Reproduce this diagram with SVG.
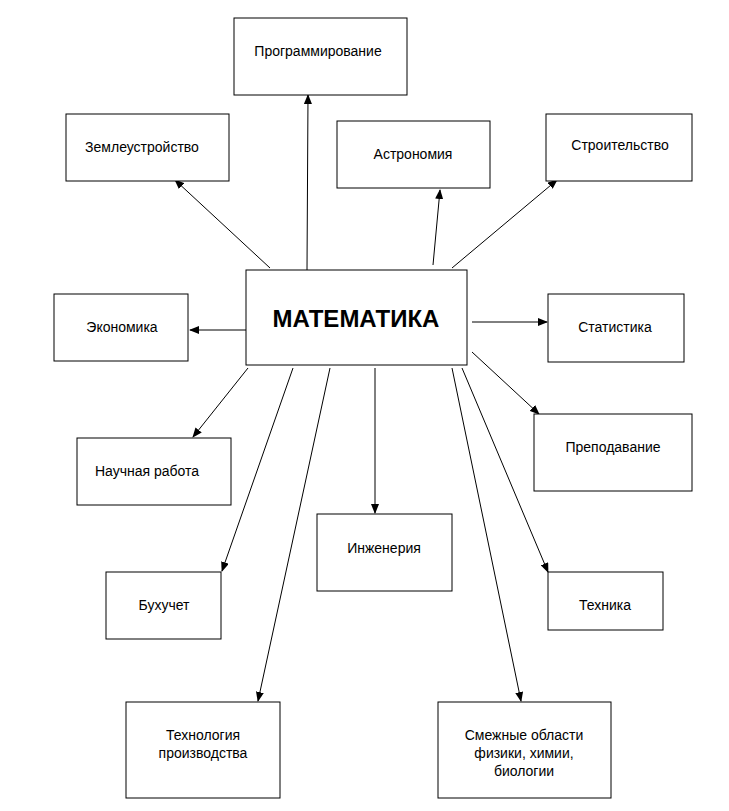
<svg xmlns="http://www.w3.org/2000/svg" width="729" height="811" viewBox="0 0 729 811">
<style>
rect{fill:#fff;stroke:#000;stroke-width:1}
text{font-family:"Liberation Sans",Arial,sans-serif;font-size:14px;fill:#000;text-anchor:middle}
.c line{stroke:#000;stroke-width:1;marker-end:url(#a)}
</style>
<defs><marker id="a" markerWidth="10" markerHeight="8" refX="9" refY="4" orient="auto" markerUnits="userSpaceOnUse"><path d="M0,0L10,4L0,8Z" fill="#000"/></marker></defs>
<rect width="729" height="811" style="stroke:none"/>
<g class="c">
<line x1="307" y1="270" x2="308" y2="95"/>
<line x1="270" y1="268" x2="175" y2="180"/>
<line x1="433" y1="265" x2="440" y2="190"/>
<line x1="452" y1="268" x2="557" y2="180"/>
<line x1="246" y1="330" x2="190" y2="330"/>
<line x1="472" y1="322" x2="547" y2="322"/>
<line x1="248" y1="368" x2="193" y2="437"/>
<line x1="472" y1="352" x2="539" y2="414"/>
<line x1="375" y1="368" x2="375" y2="513"/>
<line x1="293" y1="368" x2="222" y2="571"/>
<line x1="462" y1="368" x2="548" y2="572"/>
<line x1="330" y1="368" x2="258" y2="701"/>
<line x1="452" y1="368" x2="521" y2="701"/>
</g>
<g id="math"><rect x="246" y="270" width="221" height="95"/><text x="356" y="327" style="font-size:24px;font-weight:bold">МАТЕМАТИКА</text></g>
<g id="prog"><rect x="234" y="18" width="173" height="77"/><text x="318" y="56">Программирование</text></g>
<g id="zem"><rect x="66" y="114" width="163" height="67"/><text x="142" y="152">Землеустройство</text></g>
<g id="astro"><rect x="337" y="121" width="153" height="67"/><text x="413" y="159">Астрономия</text></g>
<g id="stroi"><rect x="546" y="114" width="146" height="67"/><text x="620" y="150">Строительство</text></g>
<g id="econ"><rect x="54" y="294" width="134" height="67"/><text x="122" y="332">Экономика</text></g>
<g id="stat"><rect x="548" y="294" width="136" height="68"/><text x="615" y="332">Статистика</text></g>
<g id="prep"><rect x="534" y="414" width="158" height="77"/><text x="613" y="452">Преподавание</text></g>
<g id="nauch"><rect x="77" y="438" width="154" height="67"/><text x="147" y="476">Научная работа</text></g>
<g id="inzh"><rect x="317" y="514" width="135" height="77"/><text x="384" y="553">Инженерия</text></g>
<g id="buh"><rect x="106" y="572" width="115" height="67"/><text x="164" y="610">Бухучет</text></g>
<g id="tech"><rect x="548" y="572" width="115" height="58"/><text x="605" y="610">Техника</text></g>
<g id="techprod"><rect x="126" y="702" width="154" height="96"/><text x="203" y="740">Технология</text><text x="203" y="758">производства</text></g>
<g id="smezh"><rect x="438" y="702" width="173" height="96"/><text x="524" y="740">Смежные области</text><text x="524" y="758">физики, химии,</text><text x="524" y="776">биологии</text></g>
</svg>
